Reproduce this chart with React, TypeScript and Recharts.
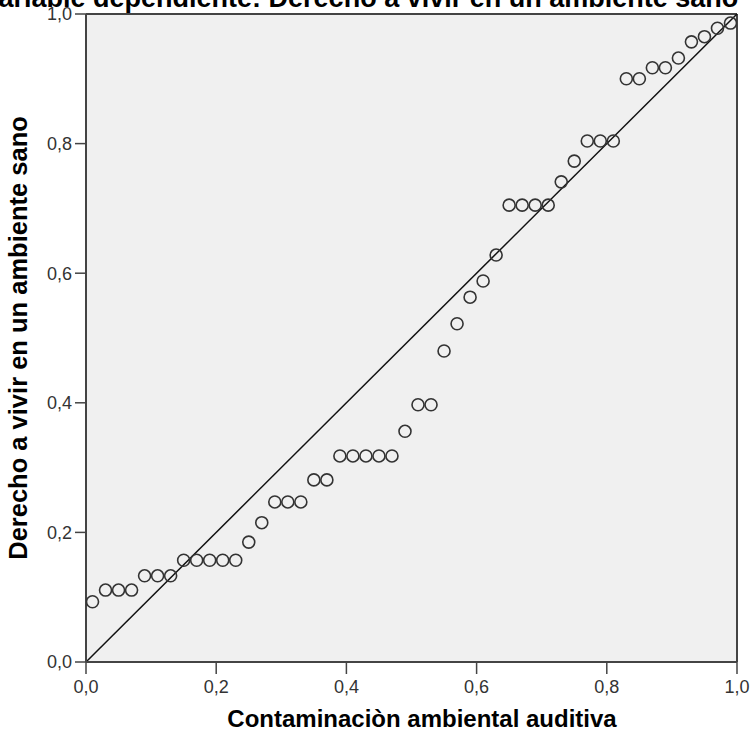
import React from 'react';
import { ScatterChart, Scatter, XAxis, YAxis, CartesianGrid, ReferenceLine } from 'recharts';

// observed cumulative probability (x) vs expected (y)
const xValues = [
  0.01, 0.03, 0.05, 0.07, 0.09, 0.11, 0.13, 0.15, 0.17, 0.19,
  0.21, 0.23, 0.25, 0.27, 0.29, 0.31, 0.33, 0.35, 0.37, 0.39,
  0.41, 0.43, 0.45, 0.47, 0.49, 0.51, 0.53, 0.55, 0.57, 0.59,
  0.61, 0.63, 0.65, 0.67, 0.69, 0.71, 0.73, 0.75, 0.77, 0.79,
  0.81, 0.83, 0.85, 0.87, 0.89, 0.91, 0.93, 0.95, 0.97, 0.99,
];
const yValues = [
  0.093, 0.111, 0.111, 0.111, 0.133, 0.133, 0.133, 0.157, 0.157, 0.157,
  0.157, 0.157, 0.185, 0.215, 0.247, 0.247, 0.247, 0.281, 0.281, 0.318,
  0.318, 0.318, 0.318, 0.318, 0.356, 0.397, 0.397, 0.48, 0.522, 0.563,
  0.588, 0.628, 0.705, 0.705, 0.705, 0.705, 0.741, 0.773, 0.804, 0.804,
  0.804, 0.9, 0.9, 0.917, 0.917, 0.932, 0.957, 0.965, 0.978, 0.986,
];
const ticks = [0, 0.2, 0.4, 0.6, 0.8, 1];

const title = 'Variable dependiente: Derecho a vivir en un ambiente sano';
const xLabel = 'Contaminaciòn ambiental auditiva';
const yLabel = 'Derecho a vivir en un ambiente sano';

const FONT = '"Liberation Sans", Arial, sans-serif';
const FRAME = '#444';

const points = xValues.map((x, i) => ({ x, y: yValues[i] }));

const fmt = (v: number) => v.toFixed(1).replace('.', ',');

const OpenCircle = (props: any) => {
  const { cx, cy } = props;
  if (cx == null || cy == null) return null;
  return <circle cx={cx} cy={cy} r={6} fill="none" stroke="#333" strokeWidth={1.6} />;
};

export default function App() {
  const tickStyle = { fill: '#333', fontSize: 18, fontFamily: FONT };
  return (
    <div style={{ position: 'absolute', left: 0, top: 0, width: 750, height: 740, background: '#fff' }}>
      <ScatterChart width={750} height={740} margin={{ top: 14, right: 13, bottom: 0, left: 0 }}>
        <CartesianGrid horizontal={false} vertical={false} fill="#F0F0F0" />
        <XAxis
          type="number"
          dataKey="x"
          domain={[0, 1]}
          ticks={ticks}
          tickFormatter={fmt}
          height={78}
          tickSize={12}
          tickMargin={6}
          tick={tickStyle}
          axisLine={{ stroke: FRAME, strokeWidth: 2 }}
          tickLine={{ stroke: FRAME, strokeWidth: 1.5 }}
          allowDataOverflow
        />
        <YAxis
          type="number"
          dataKey="y"
          domain={[0, 1]}
          ticks={ticks}
          tickFormatter={fmt}
          width={86}
          tickSize={11}
          tickMargin={3}
          tick={tickStyle}
          axisLine={{ stroke: FRAME, strokeWidth: 2 }}
          tickLine={{ stroke: FRAME, strokeWidth: 1.5 }}
          allowDataOverflow
        />
        <ReferenceLine y={1} stroke={FRAME} strokeWidth={2} />
        <ReferenceLine x={1} stroke={FRAME} strokeWidth={2} />
        <ReferenceLine
          segment={[{ x: 0, y: 0 }, { x: 1, y: 1 }]}
          stroke="#111"
          strokeWidth={1.5}
          ifOverflow="visible"
        />
        <Scatter data={points} shape={<OpenCircle />} isAnimationActive={false} />
      </ScatterChart>
      <svg
        width={750}
        height={740}
        style={{ position: 'absolute', left: 0, top: 0, pointerEvents: 'none' }}
      >
        <text x={-18} y={7} fontFamily={FONT} fontWeight="bold" fontSize={27} fill="#000">
          {title}
        </text>
        <text
          x={422}
          y={727}
          textAnchor="middle"
          fontFamily={FONT}
          fontWeight="bold"
          fontSize={24}
          fill="#000"
        >
          {xLabel}
        </text>
        <text
          transform="translate(27, 338) rotate(-90)"
          textAnchor="middle"
          fontFamily={FONT}
          fontWeight="bold"
          fontSize={25.5}
          fill="#000"
        >
          {yLabel}
        </text>
      </svg>
    </div>
  );
}
